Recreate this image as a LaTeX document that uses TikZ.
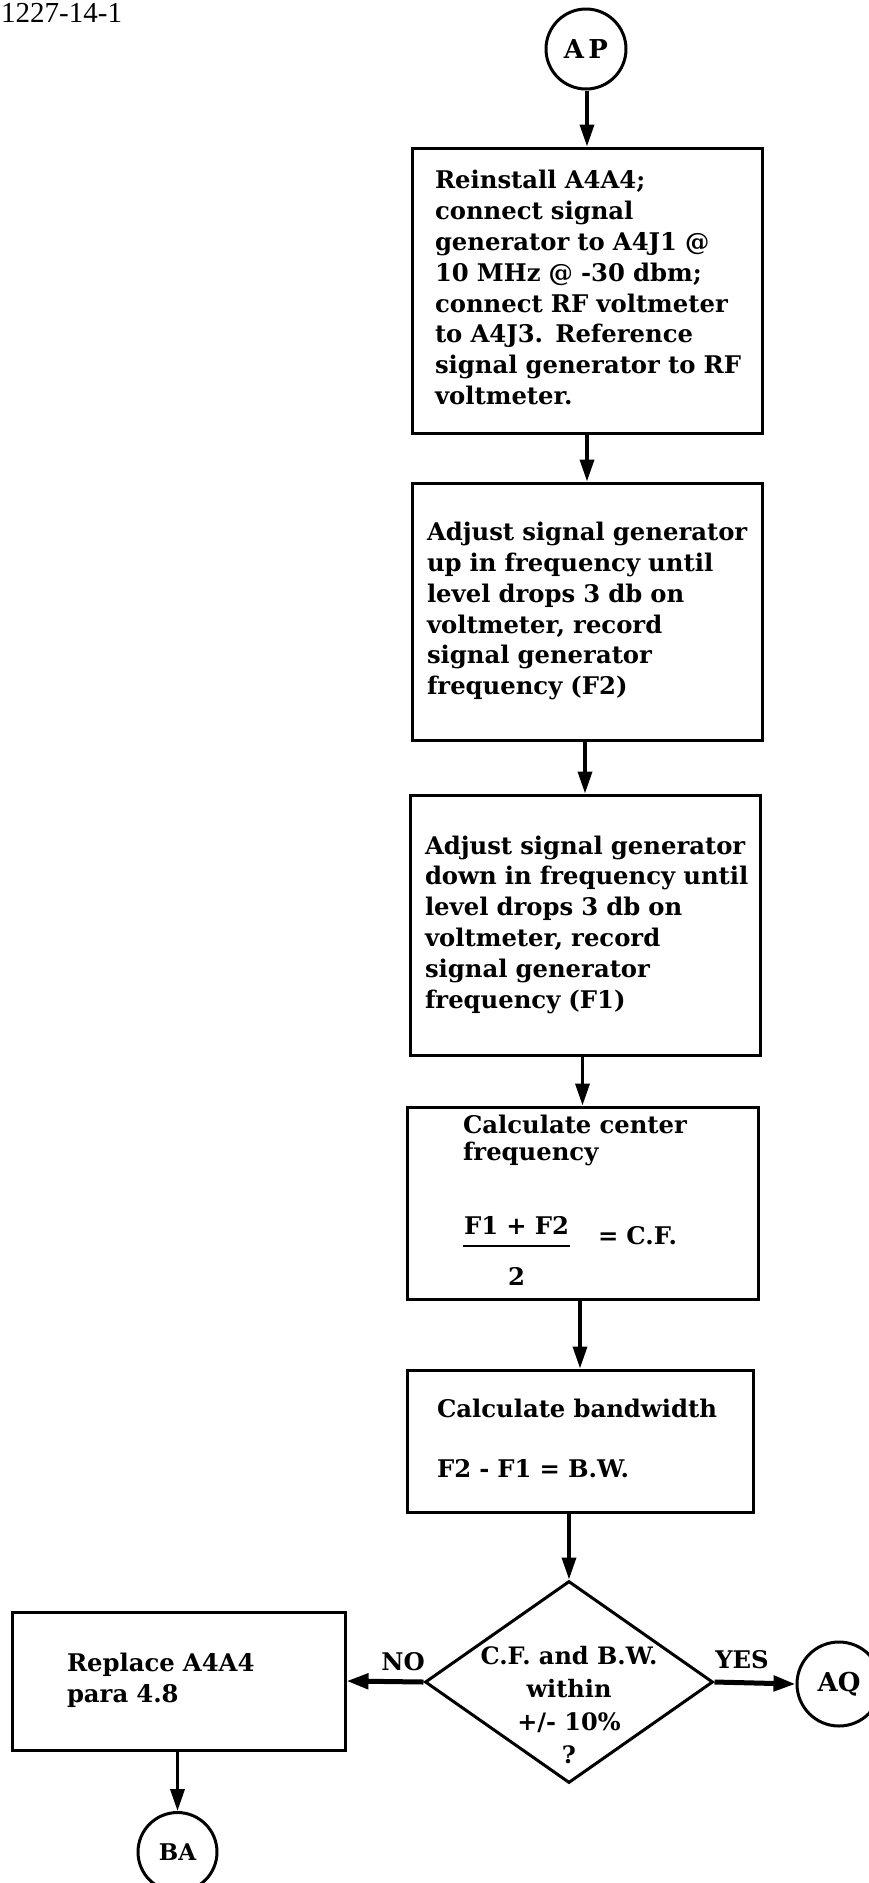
\documentclass[tikz,border=0pt]{standalone}
\usepackage{fontspec}
\setmainfont{DejaVu Serif}
\newfontfamily\idfont{Liberation Serif}
\usetikzlibrary{arrows.meta,shapes.geometric}
\newcommand{\flowlines}[1]{\begin{tabular}{@{}l@{}}#1\end{tabular}}

\begin{document}
\begin{tikzpicture}[
  x=1pt, y=-1pt,
  font=\fontsize{24.3}{30.8}\selectfont\bfseries,
  box/.style={draw, line width=3pt, align=left, inner ysep=0pt},
  conn/.style={draw, circle, line width=3pt, inner sep=0pt},
  decision/.style={draw, diamond, line width=3pt, inner sep=0pt, minimum width=288pt, minimum height=202pt},
  arr/.style={-{Triangle[length=22pt,width=14pt]}, line width=3.5pt},
  harr/.style={-{Triangle[length=22pt,width=15pt]}, line width=5pt}
]
\useasboundingbox (0,0) rectangle (869,1883);
\node[font=\idfont\fontsize{29}{30}\selectfont, anchor=base west, inner sep=0pt] (docid) at (1,22) {1227-14-1};

% main column
\node[conn, minimum size=80pt, font=\fontsize{26}{28}\selectfont\bfseries] (ap) at (586,49) {A\,P};
\node[box, minimum height=285pt, text width=304pt, inner xsep=23pt] (b1) at (587,290.5) {\flowlines{Reinstall A4A4;\\
connect signal\\
generator to A4J1 @\\
10 MHz @ -30 dbm;\\
connect RF voltmeter\\
to A4J3.  Reference\\
signal generator to RF\\
voltmeter.}};
\node[box, minimum height=257pt, text width=320pt, inner xsep=15pt] (b2) at (587,611.5) {\flowlines{Adjust signal generator\\
up in frequency until\\
level drops 3 db on\\
voltmeter, record\\
signal generator\\
frequency (F2)}};
\node[box, minimum height=260pt, text width=320pt, inner xsep=15pt] (b3) at (585,925) {\flowlines{Adjust signal generator\\
down in frequency until\\
level drops 3 db on\\
voltmeter, record\\
signal generator\\
frequency (F1)}};
\node[box, minimum height=192pt, text width=239pt, inner xsep=56pt] (b4) at (582.5,1203) {\flowlines{Calculate center\\[-3pt]
frequency\\[43pt]
\begin{tabular}[t]{@{}c@{}}F1 + F2\\[-18.5pt]\rule{107pt}{2.2pt}\\[7.5pt]2\end{tabular}\hspace{28pt}\raisebox{-10pt}{= C.F.}}};
\node[box, minimum height=142pt, text width=286pt, inner xsep=30pt] (b5) at (580,1441) {\flowlines{Calculate bandwidth\\[29.5pt]
F2 - F1 = B.W.}};
\node[decision] (dec) at (569,1682) {};
\node[align=center, font=\fontsize{24}{33}\selectfont\bfseries] (dectext) at ([yshift=-23pt]dec.center) {C.F. and B.W.\\within\\+/- 10\%\\?};

% branches
\node[box, minimum height=138pt, text width=223pt, inner xsep=55pt] (rep) at (178.5,1681) {\flowlines{Replace A4A4\\
para 4.8}};
\node[conn, minimum size=79pt, font=\fontsize{23}{25}\selectfont\bfseries] (ba) at (177.5,1852) {BA};
\node[conn, minimum size=84pt, font=\fontsize{26}{28}\selectfont\bfseries] (aq) at (839,1684) {AQ};
\node (no) at (403,1662) {NO};
\node (yes) at (742,1660) {YES};

\draw[arr] (ap.south -| b1.north) -- (b1.north);
\draw[arr] (b1.south -| b2.north) -- (b2.north);
\draw[arr] (b2.south -| b3.north) -- (b3.north);
\draw[arr] (b3.south -| b4.north) -- (b4.north);
\draw[arr] (b4.south -| b5.north) -- (b5.north);
\draw[arr] (b5.south -| dec.north) -- (dec.north);
\draw[harr] (dec.west) -- (rep.east);
\draw[harr] (dec.east) -- (aq.west);
\draw[arr] (rep.south -| ba.north) -- (ba.north);
\end{tikzpicture}
\end{document}
